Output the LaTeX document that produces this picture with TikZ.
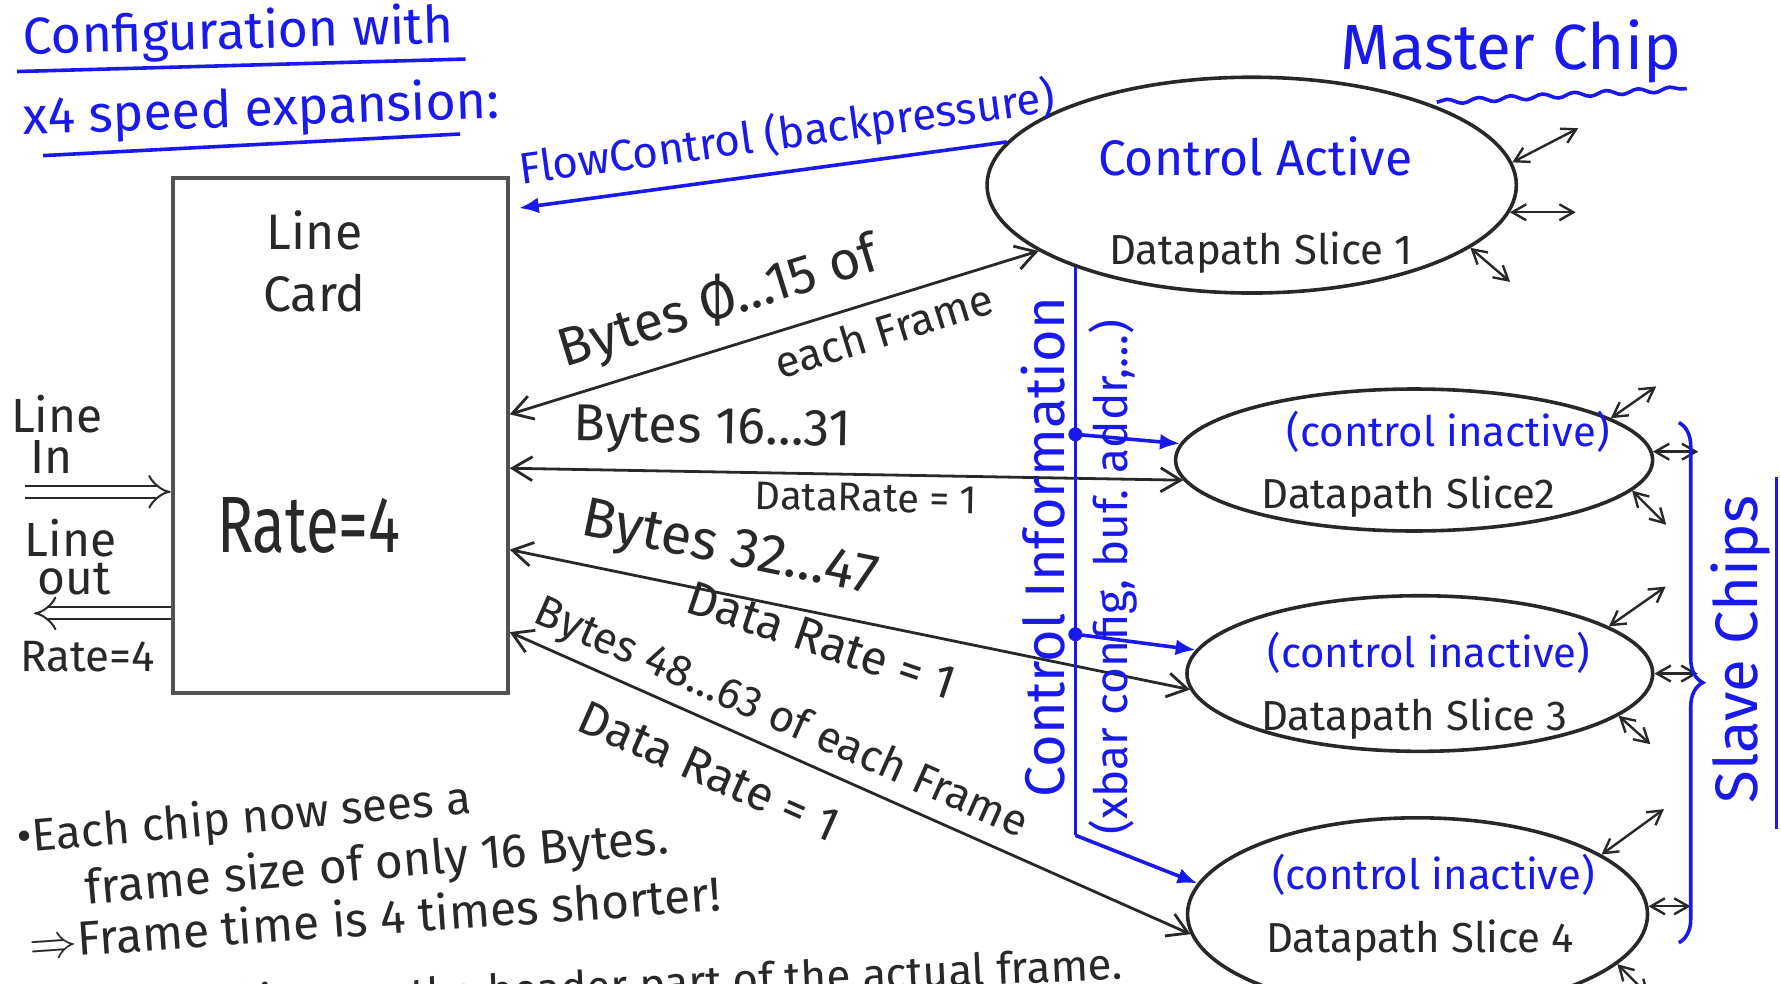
\documentclass[tikz,border=0pt]{standalone}
\usepackage{fontspec}
\setmainfont{Fira Sans}
\usetikzlibrary{shapes.geometric,arrows.meta,decorations.pathreplacing,decorations.pathmorphing,calc}
\definecolor{pen}{RGB}{25,25,235}
\definecolor{ink}{RGB}{40,40,40}
\newcommand\sz[1]{\fontsize{#1}{#1}\selectfont}
\begin{document}
\begin{tikzpicture}[x=0.1mm,y=-0.1mm,
  txt/.style={text=ink, inner sep=1pt},
  blu/.style={text=pen},
  inkline/.style={draw=ink,line width=0.7pt},
  dat/.style={inkline,{Straight Barb[length=5pt,width=6pt]}-{Straight Barb[length=5pt,width=6pt]}},
  port/.style={draw=ink,line width=0.6pt,{Straight Barb[length=3.5pt,width=4pt]}-{Straight Barb[length=3.5pt,width=4pt]}},
  chip/.style={ellipse,draw=ink,line width=0.9pt,inner sep=0pt},
  ctl/.style={draw=pen,line width=0.9pt},
  ctlarr/.style={ctl,-{Latex[length=5pt,width=4pt]}},
  dot/.style={circle,fill=pen,inner sep=0pt,minimum size=3.5pt},
  fat/.style={draw=ink,line width=0.5pt,double distance=2.5pt,-{Implies}},
]
\useasboundingbox[fill=white] (0,0) rectangle (1568,866);

% title
\node[txt,blu,font=\sz{13}] (t1) at (210,30) [rotate=1.5] {Configuration with};
\node[txt,blu,font=\sz{13}] (t2) at (230,98) [rotate=2] {x4 speed expansion:};
\draw[ctl] (15,63) -- (410,52);
\draw[ctl] (38,137) -- (405,118);

% master chip
\node[txt,blu,font=\sz{16}] (mc) at (1330,45) {Master Chip};
\draw[ctl,decorate,decoration={snake,amplitude=0.6pt,segment length=8pt}] (1265,90) -- (1485,78);
\node[chip,minimum width=46.6mm,minimum height=19mm] (m) at (1102,163) {};
\node[txt,blu,font=\sz{12.5}] (mca) at (1105,138) {Control Active};
\node[txt,font=\sz{10.5}] (ms) at (1110,222) {Datapath Slice 1};
\draw[port] (m.5) -- ++(58,-30);
\draw[port] (m.-6) -- ++(58,0);
\draw[port] (m.-16) -- ++(35,30);

% line card
\node[draw=ink!80,line width=1pt,minimum width=29.5mm,minimum height=45.3mm,inner sep=0pt] (lc) at (299.5,383.5) {};
\node[txt,font=\sz{12.5}] (lcl) at (277,203) {Line};
\node[txt,font=\sz{12.5}] (lcc) at (277,258) {Card};
\node[txt,font=\sz{20},xscale=0.75] (lcr) at (272,463) {Rate=4};

% line in / out
\node[txt,font=\sz{12}] (li1) at (50,365) {Line};
\node[txt,font=\sz{12}] (li2) at (45,402) {In};
\coordinate (lin) at (22,433);
\draw[fat] (lin) -- (lin -| lc.west);
\node[txt,font=\sz{12}] (lo1) at (62,474) {Line};
\node[txt,font=\sz{12}] (lo2) at (65,510) {out};
\coordinate (lout) at (30,540);
\draw[fat] (lout -| lc.west) -- (lout);
\node[txt,font=\sz{11}] (lor) at (77,578) {Rate=4};

% slave chips
\node[chip,minimum width=42mm,minimum height=12.5mm] (s2) at (1245,405) {};
\node[txt,blu,font=\sz{10.5}] (s2c) at (1275,380) {(control inactive)};
\node[txt,font=\sz{10.5}] (s2d) at (1240,437) {Datapath Slice2};
\node[chip,minimum width=41mm,minimum height=13.7mm] (s3) at (1250,593) {};
\node[txt,blu,font=\sz{10.5}] (s3c) at (1258,575) {(control inactive)};
\node[txt,font=\sz{10.5}] (s3d) at (1245,633) {Datapath Slice 3};
\node[chip,minimum width=40.5mm,minimum height=17mm] (s4) at (1248,805) {};
\node[txt,blu,font=\sz{10.5}] (s4c) at (1262,770) {(control inactive)};
\node[txt,font=\sz{10.5}] (s4d) at (1250,828) {Datapath Slice 4};

\draw[port] (s2.12) -- ++(40,-28);
\draw[port] (s2.2) -- ++(40,0);
\draw[port] (s2.-8) -- ++(30,30);
\draw[port] (s3.14) -- ++(50,-35);
\draw[port] (s3.0) -- ++(38,0);
\draw[port] (s3.-12) -- ++(28,25);
\draw[port] (s4.18) -- ++(55,-40);
\draw[port] (s4.2) -- ++(37,0);
\draw[port] (s4.-14) -- ++(28,28);

% data connections
\coordinate (p1) at ($(lc.north east)!0.459!(lc.south east)$);
\coordinate (p2) at ($(lc.north east)!0.563!(lc.south east)$);
\coordinate (p3) at ($(lc.north east)!0.720!(lc.south east)$);
\coordinate (p4) at ($(lc.north east)!0.879!(lc.south east)$);
\draw[dat] (p1) -- node[txt,pos=0.42,sloped,above=3pt,font=\sz{13.5}] (l1a) {Bytes Ø…15 of}
                    node[txt,pos=0.69,sloped,below=2pt,font=\sz{11}] (l1b) {each Frame} (m);
\draw[dat] (p2) -- node[txt,pos=0.3,sloped,above=3pt,font=\sz{13}] (l2a) {Bytes 16…31}
                    node[txt,pos=0.53,sloped,below=1pt,font=\sz{10}] (l2b) {DataRate = 1} (s2.185);
\draw[dat] (p3) -- node[txt,pos=0.31,sloped,above=3pt,font=\sz{14}] (l3a) {Bytes 32…47}
                    node[txt,pos=0.47,sloped,below=1pt,font=\sz{12},rotate=-7] (l3b) {Data Rate = 1} (s3.184);
\draw[dat] (p4) -- node[txt,pos=0.38,sloped,above=1pt,font=\sz{11}] (l4a) {Bytes 48…63 of each Frame}
                    node[txt,pos=0.32,sloped,below=6pt,font=\sz{12}] (l4b) {Data Rate = 1} (s4.185);

% flow control
\coordinate (fc) at ($(lc.north east)+(8,28)$);
\draw[ctlarr] (m.170) -- node[txt,blu,pos=0.44,sloped,above=2pt,font=\sz{11}] (fcl) {FlowControl (backpressure)} (fc);

% control bus
\coordinate (bt) at (m.205);
\coordinate (bb) at ($(bt)+(0,500)$);
\coordinate (d2) at ($(bt)+(0,147)$);
\coordinate (d3) at ($(bt)+(0,323)$);
\draw[ctl] (bt) -- (bb);
\draw[ctlarr] (bb) -- (s4.172);
\node[dot] (d2n) at (d2) {};
\node[dot] (d3n) at (d3) {};
\draw[ctlarr] (d2) -- (s2.176);
\draw[ctlarr] (d3) -- (s3.174);
\node[txt,blu,font=\sz{14},rotate=90] (ci) at (918,482) {Control Information};
\node[txt,blu,font=\sz{11.5},rotate=90] (cx) at (980,508) {(xbar config, buf. addr,…)};

% slave brace
\draw[ctl,decorate,decoration={brace,amplitude=6pt}] (1478,372) -- (1478,830);
\node[txt,blu,font=\sz{15}] (sc) at (1532,572) [rotate=90] {Slave Chips};
\draw[ctl] (1564,420) -- (1564,730);

% bottom notes
\node[txt,font=\sz{11.5},rotate=5] (b1) at (215,722) {\textbullet Each chip now sees a};
\node[txt,font=\sz{12},rotate=5] (b2) at (332,762) {frame size of only 16 Bytes.};
\node[txt,font=\sz{12},rotate=4] (b3) at (330,807) {$\Rightarrow$Frame time is 4 times shorter!};
\node[txt,font=\sz{11},rotate=2.5] (b4) at (505,872) {Only one chip sees the header part of the actual frame.};
\end{tikzpicture}
\end{document}
